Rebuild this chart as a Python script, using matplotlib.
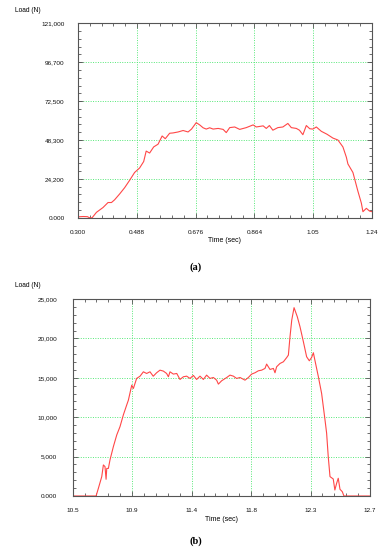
import matplotlib
matplotlib.use("Agg")
import matplotlib.pyplot as plt
from matplotlib.ticker import AutoMinorLocator

# ---------------- data ----------------
time_a = [0.300, 0.316, 0.330, 0.337, 0.345, 0.359, 0.380, 0.396, 0.407, 0.417,
          0.433, 0.449, 0.465, 0.481, 0.497, 0.510, 0.518, 0.529, 0.542, 0.556,
          0.569, 0.579, 0.593, 0.604, 0.620, 0.636, 0.652, 0.663, 0.678, 0.689,
          0.700, 0.710, 0.721, 0.732, 0.748, 0.764, 0.774, 0.785, 0.801, 0.817,
          0.838, 0.860, 0.870, 0.892, 0.902, 0.912, 0.923, 0.939, 0.955, 0.971,
          0.982, 0.998, 1.008, 1.019, 1.030, 1.041, 1.051, 1.062, 1.078, 1.096,
          1.115, 1.131, 1.147, 1.158, 1.163, 1.179, 1.195, 1.206, 1.211, 1.222,
          1.232, 1.240]
load_a = [600, 800, 700, 0, 0, 3400, 6400, 9500, 9500, 11200,
          14800, 18700, 23300, 28200, 31000, 35000, 41500, 40300, 44100, 45800,
          50900, 49200, 52600, 52800, 53400, 54300, 53400, 55200, 59200, 57800,
          56000, 55200, 56000, 55200, 55600, 55000, 53000, 56100, 56500, 55000,
          56100, 57800, 56500, 57200, 55600, 57400, 54500, 56100, 56500, 58700,
          56100, 55600, 54500, 51700, 57400, 55400, 55200, 56500, 53800, 52000,
          49600, 48400, 44100, 37700, 33500, 28200, 16500, 9100, 3800, 5900,
          4200, 3800]

time_b = [10.50, 10.673, 10.69, 10.715, 10.727, 10.739, 10.747, 10.752, 10.764, 10.776,
          10.801, 10.826, 10.85, 10.875, 10.90, 10.912, 10.937, 10.949, 10.973, 10.998,
          11.023, 11.047, 11.072, 11.096, 11.121, 11.146, 11.171, 11.195, 11.208, 11.22,
          11.245, 11.27, 11.294, 11.319, 11.343, 11.368, 11.393, 11.417, 11.442, 11.467,
          11.491, 11.516, 11.541, 11.565, 11.578, 11.602, 11.64, 11.664, 11.689, 11.713,
          11.738, 11.775, 11.80, 11.824, 11.849, 11.874, 11.898, 11.923, 11.935, 11.96,
          11.985, 11.997, 12.009, 12.034, 12.059, 12.084, 12.096, 12.108, 12.121, 12.138,
          12.162, 12.182, 12.207, 12.231, 12.251, 12.268, 12.281, 12.292, 12.318, 12.342,
          12.367, 12.379, 12.391, 12.404, 12.428, 12.44, 12.453, 12.465, 12.478, 12.495,
          12.507, 12.70]
load_b = [0, 0, 975, 2460, 3940, 3730, 2120, 3500, 3500, 4580,
          6270, 7750, 8800, 10300, 11570, 12160, 14070, 13640, 14920, 15200,
          15760, 15550, 15760, 15200, 15640, 15970, 15850, 15550, 15130, 15760,
          15470, 15550, 14790, 15130, 15210, 14920, 15300, 14790, 15210, 14790,
          15340, 14920, 15040, 14700, 14200, 14620, 15040, 15340, 15210, 14920,
          15040, 14700, 15040, 15470, 15640, 15890, 15970, 16190, 16740, 16060,
          16190, 15640, 16400, 16820, 17030, 17580, 17880, 20210, 22330, 23900,
          22750, 21480, 19580, 17670, 17160, 17580, 18180, 17250, 15130, 13010,
          9660, 7970, 5000, 2460, 2160, 760, 1610, 2250, 850, 550,
          0, 0]

xticks_a = [0.300, 0.488, 0.676, 0.864, 1.052, 1.240]
xticklabels_a = ["0.300", "0.488", "0.676", "0.864", "1.05", "1.24"]
yticks_a = [0, 24200, 48300, 72500, 96700, 121000]
yticklabels_a = ["0.000", "24,200", "48,300", "72,500", "96,700", "121,000"]

xticks_b = [10.50, 10.94, 11.38, 11.82, 12.26, 12.70]
xticklabels_b = ["10.5", "10.9", "11.4", "11.8", "12.3", "12.7"]
yticks_b = [0, 5000, 10000, 15000, 20000, 25000]
yticklabels_b = ["0.000", "5,000", "10,000", "15,000", "20,000", "25,000"]

# ---------------- style ----------------
plt.rcParams['font.family'] = ['Liberation Sans', 'DejaVu Sans']
W, H = 389, 550
fig = plt.figure(figsize=(W / 100, H / 100), dpi=100)
fig.patch.set_facecolor('white')

LINE_C = '#ff4747'
GRID_C = '#55e877'
SPINE_C = '#555555'
TICK_FS = 4.6


def px_axes(l, t, r, b):
    return fig.add_axes([l / W, 1 - b / H, (r - l) / W, (b - t) / H])


def style(ax, xt, xtl, yt, ytl, ypad):
    ax.set_xticks(xt)
    ax.set_xticklabels(xtl)
    ax.set_yticks(yt)
    ax.set_yticklabels(ytl)
    ax.xaxis.set_minor_locator(AutoMinorLocator(5))
    ax.yaxis.set_minor_locator(AutoMinorLocator(5))
    ax.tick_params(which='both', direction='in', top=True, right=True,
                   colors=SPINE_C, labelcolor='#111111', labelsize=TICK_FS, width=0.6)
    ax.tick_params(which='major', length=3.5)
    ax.tick_params(which='minor', length=2.2)
    ax.tick_params(axis='x', which='major', pad=8.5)
    ax.tick_params(axis='y', which='major', pad=ypad)
    ax.grid(True, which='major', color=GRID_C, linestyle=(0, (1, 1.5)), linewidth=0.7)
    for s in ax.spines.values():
        s.set_color(SPINE_C)
        s.set_linewidth(0.8)
    ax.set_axisbelow(True)


# ---------- (a) ----------
ax1 = px_axes(78, 23.3, 372, 217.8)
ax1.plot(time_a, load_a, color=LINE_C, lw=0.8)
ax1.set_xlim(xticks_a[0], xticks_a[-1])
ax1.set_ylim(yticks_a[0], yticks_a[-1])
style(ax1, xticks_a, xticklabels_a, yticks_a, yticklabels_a, 9.5)
ax1.set_xlabel("Time (sec)", fontsize=5, labelpad=2)
fig.text(15 / W, 1 - 10.5 / H, "Load (N)", fontsize=4.8, va='center', ha='left')
fig.text(196 / W, 1 - 267 / H, "(a)", fontsize=7.5, ha='center', va='center',
         family='Liberation Serif', weight='bold')

# ---------- (b) ----------
ax2 = px_axes(72.7, 299, 370, 496)
ax2.plot(time_b, load_b, color=LINE_C, lw=0.8)
ax2.set_xlim(xticks_b[0], xticks_b[-1])
ax2.set_ylim(yticks_b[0], yticks_b[-1])
style(ax2, xticks_b, xticklabels_b, yticks_b, yticklabels_b, 11)
ax2.set_xlabel("Time (sec)", fontsize=5, labelpad=2)
fig.text(15 / W, 1 - 285.7 / H, "Load (N)", fontsize=4.8, va='center', ha='left')
fig.text(196 / W, 1 - 541 / H, "(b)", fontsize=7.5, ha='center', va='center',
         family='Liberation Serif', weight='bold')

fig.savefig("out.png", dpi=100)
